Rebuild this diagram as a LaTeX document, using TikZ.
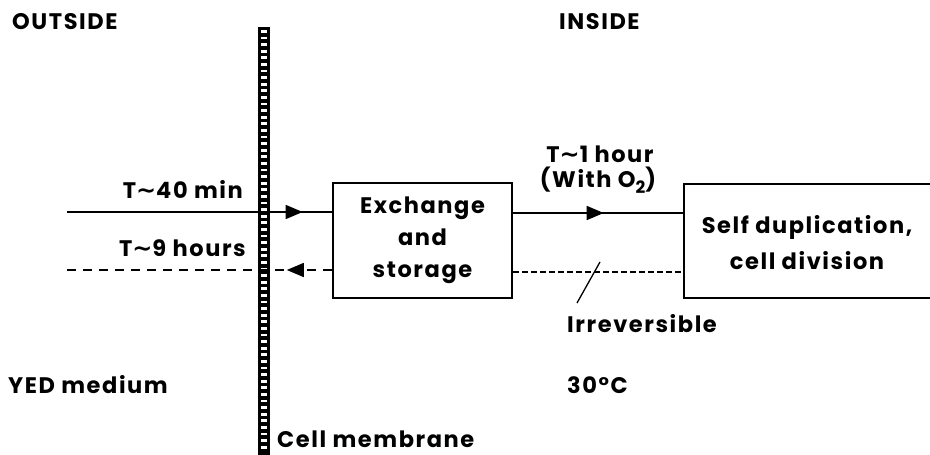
\documentclass[tikz,border=0pt]{standalone}
\usepackage{fontspec}
\setmainfont{Poppins}[LetterSpace=7]
\newfontfamily\symf{DejaVu Sans}
\usetikzlibrary{arrows.meta,decorations.markings}
\newcommand{\tld}{{\symf\bfseries\fontsize{24}{24}\selectfont ∼}}
\begin{document}
\begin{tikzpicture}[x=1pt,y=-1pt,
  lbl/.style={font=\bfseries\fontsize{22.5}{26}\selectfont, inner sep=0pt},
  boxtxt/.style={lbl, align=center},
  box/.style={draw, line width=2.4pt},
  conn/.style={line width=1.5pt},
  dashout/.style={conn, dash pattern=on 9pt off 7pt},
  dashin/.style={line width=1.1pt, dash pattern=on 6pt off 3pt},
  midarrow/.style={postaction={decorate}, decoration={markings,
     mark=at position #1 with {\arrow{Triangle[length=17pt,width=14pt]}}}}
]
\useasboundingbox (0,0) rectangle (930,455);
\fill[white] (0,0) rectangle (930,455);

% membrane
\fill[black] (258,27) rectangle (270,455);
\foreach \yy in {30,36.6,...,452} \fill[white] (261,\yy) rectangle (267,\yy+2.8);

% boxes
\node[box, boxtxt, minimum width=179pt, minimum height=115pt] (ex) at (422.5,240.5)
  {Exchange\\[6pt]and\\[6pt]storage};
\coordinate (rb1) at (684,184);
\coordinate (rb2) at (684,298);
\draw[box] (940,184) -- (rb1) -- (rb2) -- (940,298);
\node[boxtxt] (sd) at (807,243) {Self duplication,\\[10pt]cell division};

% connectors
\coordinate (o1) at (67,212);
\coordinate (o2) at (67,270);
\coordinate (i1) at (684,213);
\coordinate (i2) at (684,272);
\draw[conn, midarrow=0.89] (o1) -- (ex.west |- o1);
\draw[dashout, midarrow=0.17] (ex.west |- o2) -- (o2);
\draw[conn, midarrow=0.53] (ex.east |- i1) -- (i1);
\draw[dashin] (ex.east |- i2) -- (i2);
\coordinate (s1) at (577,303);
\coordinate (s2) at (600,262);
\draw[line width=1.3pt] (s1) -- (s2);

% labels
\node[lbl, anchor=base west] (outside) at (12,29) {OUTSIDE};
\node[lbl, anchor=base west] (inside) at (559,30) {INSIDE};
\node[lbl, anchor=base east] (t40) at (243,198) {T\tld40 min};
\node[lbl, anchor=base east] (t9) at (246,256) {T\tld9 hours};
\node[lbl, anchor=base] (t1) at (600,162) {T\tld1 hour};
\node[lbl, anchor=base] (o2lbl) at (598,187) {(With O\raisebox{-6pt}{\fontsize{17}{17}\selectfont 2})};
\node[lbl, anchor=base west] (irr) at (567,332) {Irreversible};
\node[lbl, anchor=base west] (yed) at (8,393) {YED medium};
\node[lbl, anchor=base west] (temp) at (567,393) {30°C};
\node[lbl, anchor=base west] (cm) at (277,447) {Cell membrane};
\end{tikzpicture}
\end{document}
